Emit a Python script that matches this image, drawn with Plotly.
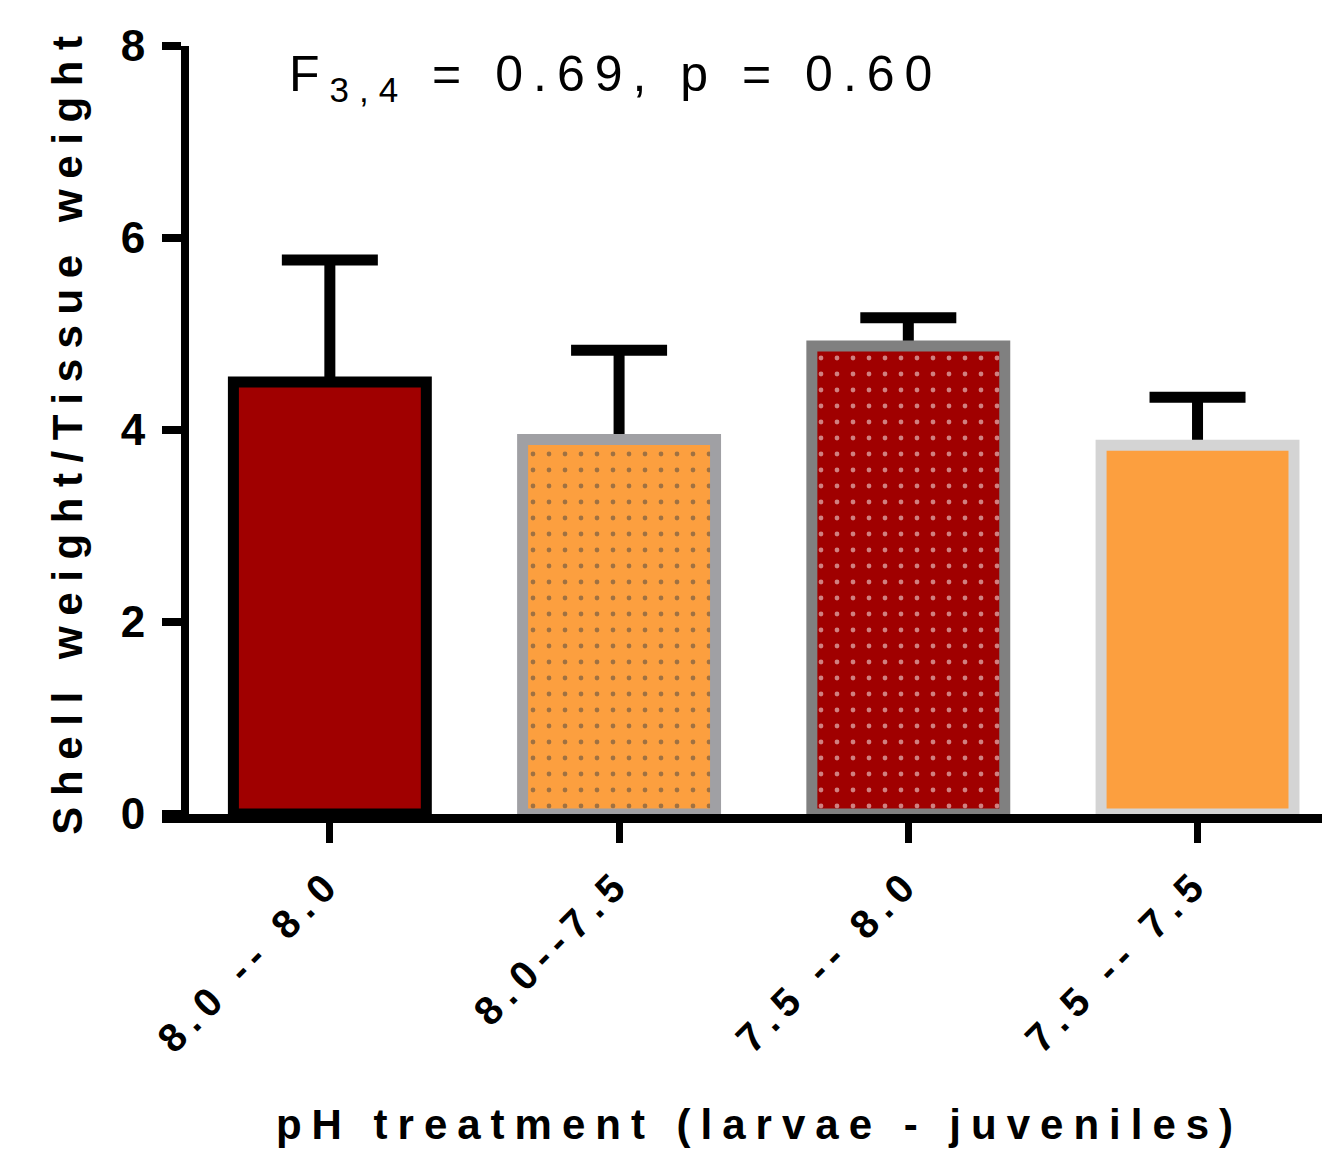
import plotly.graph_objects as go

# ---- data ----
categories = ["8.0 -- 8.0", "8.0--7.5", "7.5 -- 8.0", "7.5 -- 7.5"]
means = [4.50, 3.90, 4.875, 3.84]
errors = [1.27, 0.93, 0.295, 0.50]
fill_colors = ["#A00000", "#FC9F3F", "#A00000", "#FC9F3F"]
outline_colors = ["#000000", "#A0A0A4", "#808080", "#D4D4D4"]
pattern_shapes = ["", ".", ".", ""]
dot_colors = ["#000000", "#A0A0A4", "#8C8C8C", "#000000"]
y_ticks = [0, 2, 4, 6, 8]
y_title = "Shell weight/Tissue weight"
x_title = "pH treatment (larvae - juveniles)"
stat_text = "F<sub>3,4</sub> = 0.69, p = 0.60"

FONT = "Arial, 'Liberation Sans', sans-serif"


def spaced(text, px):
    return f'<span style="letter-spacing:{px}px">{text}</span>'


fig = go.Figure()
# error bars drawn behind the bars (as in Prism): only the upper half stays visible
fig.add_trace(go.Bar(
    x=categories,
    y=means,
    marker=dict(color="rgba(0,0,0,0)", line=dict(width=0)),
    error_y=dict(type="data", array=errors, symmetric=True,
                 color="black", thickness=11, width=48),
    hoverinfo="skip",
))
fig.add_trace(go.Bar(
    x=categories,
    y=means,
    marker=dict(
        color=fill_colors,
        line=dict(color=outline_colors, width=11),
        pattern=dict(shape=pattern_shapes, fgcolor=dot_colors,
                     size=16, solidity=0.07, fillmode="overlay"),
    ),
    hoverinfo="x+y",
))

fig.update_layout(
    width=1322, height=1144,
    margin=dict(l=181, r=0, t=38, b=338, autoexpand=False),
    plot_bgcolor="white", paper_bgcolor="white",
    barmode="overlay", bargap=0.333, showlegend=False,
    font=dict(family=FONT, color="black"),
)

fig.update_xaxes(
    type="category", range=[-0.487, 3.458],
    showline=True, linecolor="black", linewidth=9,
    ticks="outside", ticklen=20, tickwidth=7, tickcolor="black",
    tickmode="array", tickvals=categories,
    ticktext=[spaced(c, 8) for c in categories],
    tickangle=-45,
    tickfont=dict(family=FONT, size=40, color="black", weight="bold"),
    showgrid=False, zeroline=False,
    title=dict(text=spaced(x_title, 10), standoff=54,
               font=dict(family=FONT, size=42, color="black", weight="bold")),
)

fig.update_yaxes(
    range=[0, 8], tickmode="array", tickvals=y_ticks,
    showline=True, linecolor="black", linewidth=8,
    ticks="outside", ticklen=19, tickwidth=8, tickcolor="black",
    tickfont=dict(family=FONT, size=44, color="black", weight="bold"),
    ticklabelstandoff=8,
    showgrid=False, zeroline=False,
    title=dict(text=spaced(y_title, 10.6), standoff=28,
               font=dict(family=FONT, size=42, color="black", weight="bold")),
)

# extension of the baseline to the left, under the y-axis ticks (Prism-style offset)
fig.add_shape(type="line", xref="paper", yref="paper",
              xsizemode="pixel", xanchor=0, x0=-27, x1=0,
              ysizemode="pixel", yanchor=0, y0=-4.5, y1=-4.5,
              line=dict(color="black", width=9))

fig.add_annotation(
    text=spaced(stat_text, 10), xref="paper", yref="paper",
    x=(287 - 189) / 1141, y=(814 - 78) / 768, xanchor="left", yanchor="middle",
    showarrow=False, font=dict(family=FONT, size=50, color="black"),
)

fig.write_html("out.html")
